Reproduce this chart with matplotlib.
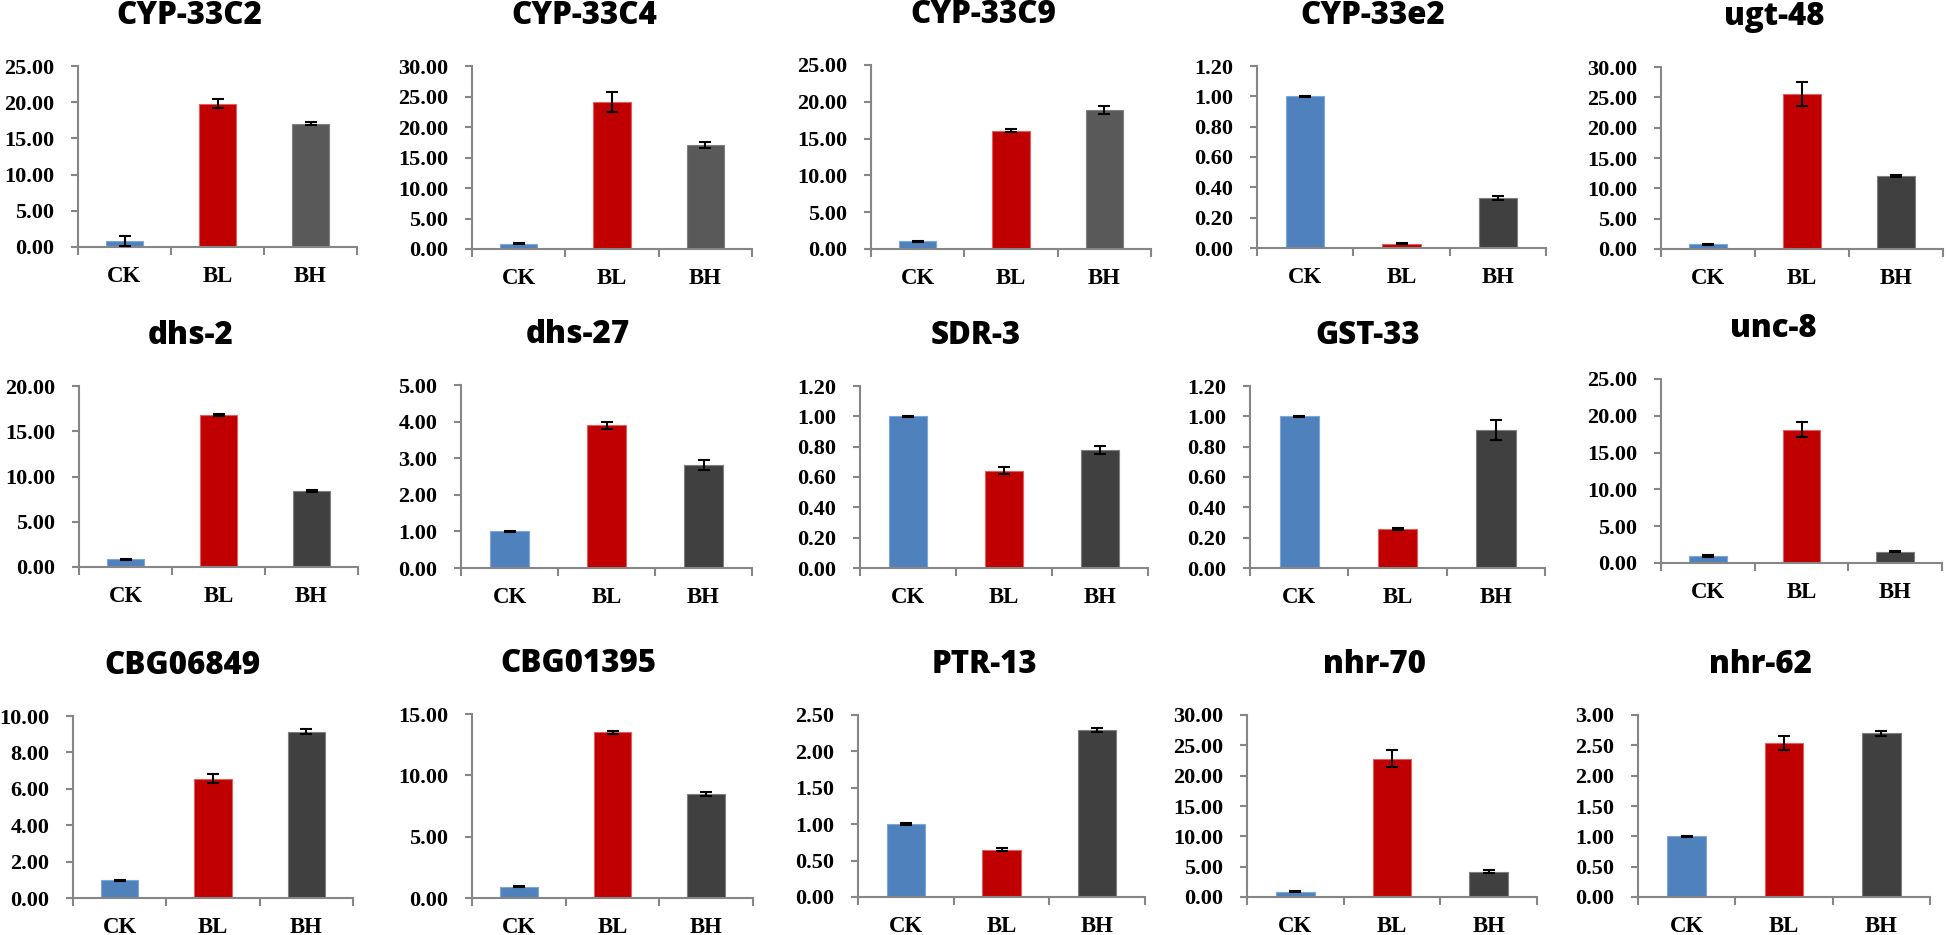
import matplotlib.pyplot as plt
from matplotlib.ticker import FixedLocator, FormatStrFormatter

plt.rcParams['font.family'] = 'Liberation Serif'

W, H = 1946, 935

genes = ['CYP-33C2', 'CYP-33C4', 'CYP-33C9', 'CYP-33e2', 'ugt-48',
         'dhs-2', 'dhs-27', 'SDR-3', 'GST-33', 'unc-8',
         'CBG06849', 'CBG01395', 'PTR-13', 'nhr-70', 'nhr-62']
groups = ['CK', 'BL', 'BH']

# mean relative expression (CK, BL, BH) and error
means = [
    [0.85, 19.8, 17.0], [0.87, 24.1, 17.1], [1.04, 16.1, 18.9], [1.00, 0.029, 0.33], [0.75, 25.5, 12.1],
    [0.85, 16.8, 8.4], [1.00, 3.90, 2.81], [1.00, 0.642, 0.776], [1.00, 0.257, 0.908], [0.95, 18.1, 1.55],
    [0.98, 6.55, 9.14], [0.92, 13.5, 8.48], [1.00, 0.65, 2.29], [0.90, 22.8, 4.20], [1.00, 2.54, 2.70],
]
errs = [
    [0.65, 0.6, 0.2], [0.08, 1.6, 0.5], [0.05, 0.2, 0.5], [0.005, 0.005, 0.015], [0.1, 2.0, 0.15],
    [0.05, 0.15, 0.12], [0.01, 0.10, 0.13], [0.003, 0.025, 0.027], [0.005, 0.005, 0.066], [0.1, 1.0, 0.1],
    [0.03, 0.25, 0.15], [0.05, 0.12, 0.15], [0.01, 0.02, 0.03], [0.1, 1.4, 0.2], [0.01, 0.12, 0.04],
]
ymax = [25, 30, 25, 1.2, 30,
        20, 5, 1.2, 1.2, 25,
        10, 15, 2.5, 30, 3]
ystep = [5, 5, 5, 0.2, 5,
         5, 1, 0.2, 0.2, 5,
         2, 5, 0.5, 5, 0.5]

# axes boxes in pixels: left, right, top, bottom
boxes = [
    (78, 357, 66, 247), (472, 752, 66, 249), (871, 1151, 65, 249), (1257, 1546, 66, 248), (1661, 1943, 67, 249),
    (79, 358, 386, 567), (461, 752, 385, 568), (860, 1148, 386, 568), (1250, 1545, 386, 568), (1661, 1942, 379, 563),
    (73, 353, 716, 898), (472, 753, 714, 898), (858, 1145, 715, 897), (1247, 1537, 715, 897), (1638, 1930, 715, 897),
]
title_pos = [0.40] * 10 + [0.39, 0.38, 0.44, 0.44, 0.42]

blue = '#4F81BD'
red = '#C00000'
gray_light = '#595959'
gray_dark = '#404040'
axis_col = '#868686'

fig = plt.figure(figsize=(W / 100, H / 100), dpi=100)

for i, gene in enumerate(genes):
    l, r, t, b = boxes[i]
    ax = fig.add_axes([l / W, 1 - b / H, (r - l) / W, (b - t) / H])
    third = gray_light if i < 3 else gray_dark
    edge = ['#7EA6D8', '#E06060', '#7F7F7F']
    ax.bar(range(3), means[i], width=0.4, color=[blue, red, third],
           edgecolor=edge, linewidth=0.8, zorder=2)
    ax.errorbar(range(3), means[i], yerr=errs[i], fmt='none', ecolor='black',
                elinewidth=1.5, capsize=4.5, capthick=1.5, zorder=3)
    ax.set_xlim(-0.5, 2.5)
    ax.set_ylim(0, ymax[i])
    n = int(round(ymax[i] / ystep[i]))
    ax.yaxis.set_major_locator(FixedLocator([k * ystep[i] for k in range(n + 1)]))
    ax.yaxis.set_major_formatter(FormatStrFormatter('%.2f'))
    ax.set_xticks(range(3))
    ax.set_xticklabels(groups)
    ax.set_xticks([-0.5, 0.5, 1.5, 2.5], minor=True)
    for s in ['top', 'right']:
        ax.spines[s].set_visible(False)
    for s in ['left', 'bottom']:
        ax.spines[s].set_color(axis_col)
        ax.spines[s].set_linewidth(1.5)
    ax.tick_params(axis='x', which='major', length=0, pad=14, labelsize=16.5)
    ax.tick_params(axis='x', which='minor', length=6, width=1.5, color=axis_col)
    ax.tick_params(axis='y', length=5, width=1.5, color=axis_col, pad=12, labelsize=16)
    for lab in ax.get_xticklabels() + ax.get_yticklabels():
        lab.set_fontweight('bold')
    ax.patch.set_alpha(0)

    cx = l + title_pos[i] * (r - l)
    cy = t - 50
    fig.text(cx / W, 1 - cy / H, gene, ha='center', va='center',
             fontsize=22.5, fontweight='heavy', family='Open Sans')

fig.savefig('out.png', dpi=100)
